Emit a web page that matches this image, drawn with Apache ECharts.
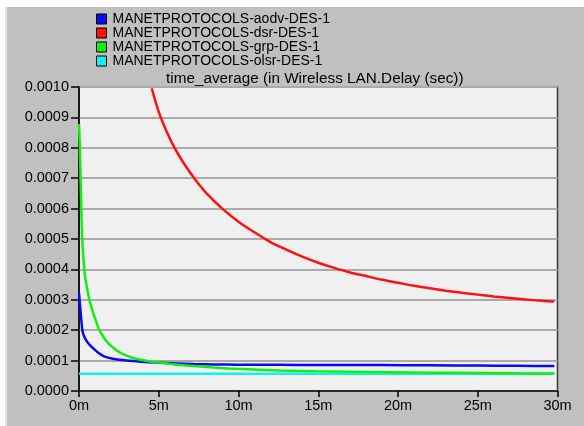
<!DOCTYPE html>
<html><head><meta charset="utf-8">
<script src="https://cdn.jsdelivr.net/npm/echarts@6/dist/echarts.min.js"></script>
<style>html,body{margin:0;padding:0;background:#fff}#c{width:584px;height:426px}</style>
</head><body><div id="c"></div>
<script>
// ---- data (x in minutes, y in seconds) ----
const seriesNames = ['MANETPROTOCOLS-aodv-DES-1','MANETPROTOCOLS-dsr-DES-1','MANETPROTOCOLS-grp-DES-1','MANETPROTOCOLS-olsr-DES-1'];
const aodvT = [0, 0.1, 0.21, 0.32, 0.48, 0.7, 0.94, 1.25, 1.57, 2.2, 3, 3.87, 4.9, 6, 7.2, 8.5, 9.9, 12.6, 15, 18.9, 22, 25, 27.5, 29.8];
const aodvV = [0.000323, 0.00026, 0.0002, 0.00018, 0.000164, 0.00015, 0.000138, 0.000124, 0.000114, 0.000105, 0.0001, 0.0000965, 0.0000935, 0.000091, 0.0000888, 0.0000875, 0.0000866, 0.000086, 0.0000857, 0.0000852, 0.0000846, 0.0000838, 0.000083, 0.0000822];
const dsrT = [4.56, 5, 5.5, 6, 6.5, 7, 7.5, 8, 9, 10, 11, 12, 13, 14, 15, 16, 17, 18, 19, 20, 21, 22, 23, 24, 25, 26, 27, 28, 29, 29.8];
const dsrV = [0.000996, 0.000918, 0.000853, 0.000799, 0.000755, 0.000716, 0.000681, 0.00065, 0.000599, 0.000557, 0.000522, 0.00049, 0.000465, 0.000442, 0.000422, 0.000405, 0.00039, 0.000378, 0.000366, 0.000356, 0.000346, 0.000338, 0.00033, 0.000323, 0.000317, 0.000311, 0.000306, 0.000301, 0.000297, 0.000294];
const grpT = [0, 0.05, 0.1, 0.15, 0.2, 0.3, 0.4, 0.52, 0.65, 0.83, 1.0, 1.26, 1.5, 1.78, 2.2, 2.62, 3.2, 3.87, 4.9, 6, 7.2, 8.4, 9.9, 12.6, 14.9, 17, 19.7, 22, 25, 27.5, 29.8];
const grpV = [0.000878, 0.00081, 0.0007, 0.00059, 0.0005, 0.00042, 0.00037, 0.000335, 0.0003, 0.000266, 0.00024, 0.000202, 0.00018, 0.00016, 0.00014, 0.000125, 0.000112, 0.000103, 0.0000944, 0.0000875, 0.0000822, 0.0000775, 0.0000728, 0.0000672, 0.0000648, 0.0000632, 0.0000615, 0.0000603, 0.0000592, 0.0000583, 0.0000576];
const olsrT = [0, 10, 20, 29.8];
const olsrV = [0.0000568, 0.0000568, 0.0000568, 0.0000568];
const colors = ['#0a0af0', '#ff1010', '#10f010', '#10f0f0'];
const xTicks = {min: 0, max: 30, step: 5};
const yTicks = {min: 0, max: 0.001, step: 0.0001};
const titleText = 'time_average (in Wireless LAN.Delay (sec))';

const zip = (t, v) => t.map((x, i) => [x, v[i]]);
const dataSets = [zip(aodvT, aodvV), zip(dsrT, dsrV), zip(grpT, grpV), zip(olsrT, olsrV)];
const FONT = 'Liberation Sans, Arial, sans-serif';

const chart = echarts.init(document.getElementById('c'), null, {renderer: 'canvas'});
chart.setOption({
  animation: false,
  backgroundColor: '#c0c0c0',
  graphic: [
    {type: 'rect', left: 0, top: 0, shape: {width: 584, height: 7}, style: {fill: '#ffffff'}, z: 100},
    {type: 'rect', left: 0, top: 0, shape: {width: 5, height: 426}, style: {fill: '#ffffff'}, z: 100},
    {type: 'rect', left: 5, top: 7, shape: {width: 2, height: 419}, style: {fill: '#e2e2e2'}, z: 100},
    {type: 'text', left: 166, top: 71, style: {text: titleText, font: '15.3px ' + FONT, fill: '#000'}, z: 100}
  ],
  legend: {
    orient: 'vertical', left: 96, top: 12, itemGap: 0, padding: 0,
    itemWidth: 10, itemHeight: 10, icon: 'rect',
    data: seriesNames,
    itemStyle: {borderColor: '#000', borderWidth: 1},
    textStyle: {fontFamily: FONT, fontSize: 14, color: '#000', lineHeight: 13.6, padding: [0, 0, 0, 1]}
  },
  grid: {left: 79, right: 26.5, top: 87, bottom: 35, show: true, backgroundColor: '#f0f0f0', borderColor: '#3a3a3a', borderWidth: 1.5},
  xAxis: {
    type: 'value', min: xTicks.min, max: xTicks.max, interval: xTicks.step,
    axisLine: {lineStyle: {color: '#000', width: 1.5}},
    axisTick: {show: true, length: 6, lineStyle: {color: '#000', width: 1.5}},
    axisLabel: {margin: 7, fontFamily: FONT, fontSize: 14.5, color: '#000', formatter: v => v + 'm'},
    splitLine: {show: false}
  },
  yAxis: {
    type: 'value', min: yTicks.min, max: yTicks.max, interval: yTicks.step,
    axisLine: {show: true, lineStyle: {color: '#000', width: 1.5}},
    axisTick: {show: true, length: 8, lineStyle: {color: '#000', width: 1.5}},
    axisLabel: {margin: 10, fontFamily: FONT, fontSize: 14.5, color: '#000', formatter: v => v.toFixed(4)},
    splitLine: {show: true, lineStyle: {color: '#aaaaaa', width: 2}}
  },
  series: seriesNames.map((n, i) => ({
    name: n, type: 'line', data: dataSets[i], showSymbol: false, symbol: 'none',
    smooth: 0.25, clip: true, z: i === 3 ? 1 : 2,
    color: colors[i],
    lineStyle: {color: colors[i], width: 2.5}
  }))
});
</script></body></html>
